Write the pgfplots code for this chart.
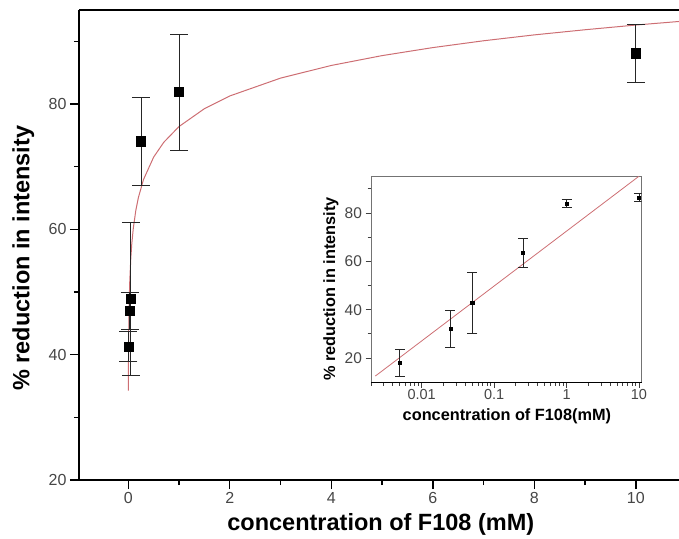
\documentclass[border=0pt]{standalone}
\usepackage{fontspec}
\setmainfont{Liberation Sans}
\usepackage{pgfplots}
\pgfplotsset{compat=1.18}
\definecolor{fitred}{RGB}{205,110,115}
\definecolor{tickgray}{RGB}{70,70,70}

\begin{document}
\begin{tikzpicture}
% main axis
\begin{axis}[
    name=main,
    at={(0pt,0pt)}, anchor=south west,
    scale only axis,
    width=600pt, height=470pt,
    xmin=-0.97, xmax=10.85,
    ymin=20, ymax=95,
    axis x line=box, axis y line=left,
    axis line style={-, line width=1.6pt, black},
    xtick pos=left, ytick pos=left,
    tick align=outside,
    xtick={0,2,4,6,8,10},
    minor xtick={1,3,5,7,9},
    ytick={20,40,60,80},
    minor ytick={30,50,70,90},
    major tick length=9pt, minor tick length=5pt,
    tick style={black, line width=1.4pt},
    /pgf/number format/assume math mode=true,
    tick label style={font=\fontsize{16}{18}\selectfont, text=tickgray},
    xlabel={concentration of F108 (mM)},
    ylabel={\% reduction in intensity},
    label style={font=\fontsize{23.5}{26}\selectfont\bfseries},
    xlabel style={at={(axis description cs:0.503,-0.094)}, anchor=center},
    ylabel style={at={(axis description cs:-0.093,0.472)}, anchor=center},
]
% fitted curve
\addplot[fitred, line width=1pt] coordinates {
    (0.0025,34.25) (0.004,37.55) (0.006,40.4) (0.01,44.0) (0.015,46.85)
    (0.02,48.88) (0.03,51.73) (0.05,55.32) (0.07,57.69) (0.1,60.2)
    (0.15,63.05) (0.2,65.08) (0.3,67.93) (0.5,71.52) (0.7,73.89)
    (1,76.4) (1.5,79.25) (2,81.28) (3,84.13) (4,86.15) (5,87.72)
    (6,89.0) (7,90.09) (8,91.03) (9,91.85) (10,92.6) (11,93.27)
};
% data with error bars
\addplot[only marks, mark=square*, mark size=4.6pt, black,
    error bars/.cd, y dir=both, y explicit,
    error bar style={line width=0.8pt, black!85},
    error mark options={rotate=90, mark size=9pt, line width=0.8pt, black!85}]
coordinates {
    (0.005,41.3) +- (0,2.45)
    (0.025,47.05) +- (0,2.95)
    (0.05,48.9) +- (0,12.2)
    (0.25,74.05) +- (0,7.05)
    (1,81.9) +- (0,9.25)
    (10,88.1) +- (0,4.6)
};
\end{axis}

% inset axis
\begin{axis}[
    name=inset,
    at={(292pt,97.7pt)}, anchor=south west,
    scale only axis,
    width=270.7pt, height=205.6pt,
    xmode=log,
    xmin=0.002, xmax=10.9,
    ymin=10, ymax=95,
    axis line style={line width=0.6pt, black!55},
    xtick pos=left, ytick pos=left,
    tick align=outside,
    xtick={0.01,0.1,1,10},
    xticklabels={0.01,0.1,1,10},
    minor xtick={0.002,0.003,0.004,0.005,0.006,0.007,0.008,0.009,
        0.02,0.03,0.04,0.05,0.06,0.07,0.08,0.09,
        0.2,0.3,0.4,0.5,0.6,0.7,0.8,0.9,
        2,3,4,5,6,7,8,9},
    ytick={20,40,60,80},
    minor ytick={30,50,70,90},
    major tick length=5.5pt, minor tick length=3.5pt,
    tick style={black!75, line width=0.9pt},
    /pgf/number format/assume math mode=true,
    tick label style={font=\fontsize{15.5}{17}\selectfont, text=tickgray},
    xticklabel style={font=\fontsize{14.5}{16}\selectfont, yshift=2pt},
    xlabel={concentration of F108(mM)},
    ylabel={\% reduction in intensity},
    label style={font=\fontsize{16.3}{18}\selectfont\bfseries},
    xlabel style={at={(axis description cs:0.502,-0.165)}, anchor=center},
    ylabel style={at={(axis description cs:-0.148,0.454)}, anchor=center},
]
\addplot[fitred, line width=0.8pt] coordinates {
    (0.0023,12.6) (10,95.2)
};
\addplot[only marks, mark=square*, mark size=1.6pt, black,
    error bars/.cd, y dir=both, y explicit,
    error bar style={line width=0.7pt, black!85},
    error mark options={rotate=90, mark size=5pt, line width=0.7pt, black!85}]
coordinates {
    (0.005,18.0) +- (0,5.5)
    (0.025,32.2) +- (0,7.6)
    (0.05,43.0) +- (0,12.6)
    (0.25,63.6) +- (0,5.9)
    (1,84.0) +- (0,1.5)
    (10,86.4) +- (0,1.6)
};
\end{axis}
\draw[line width=1.6pt, black] (inset.south west) -- (inset.south east);

\pgfresetboundingbox
\useasboundingbox (-79pt,-58pt) rectangle (600pt,480pt);
\end{tikzpicture}
\end{document}
